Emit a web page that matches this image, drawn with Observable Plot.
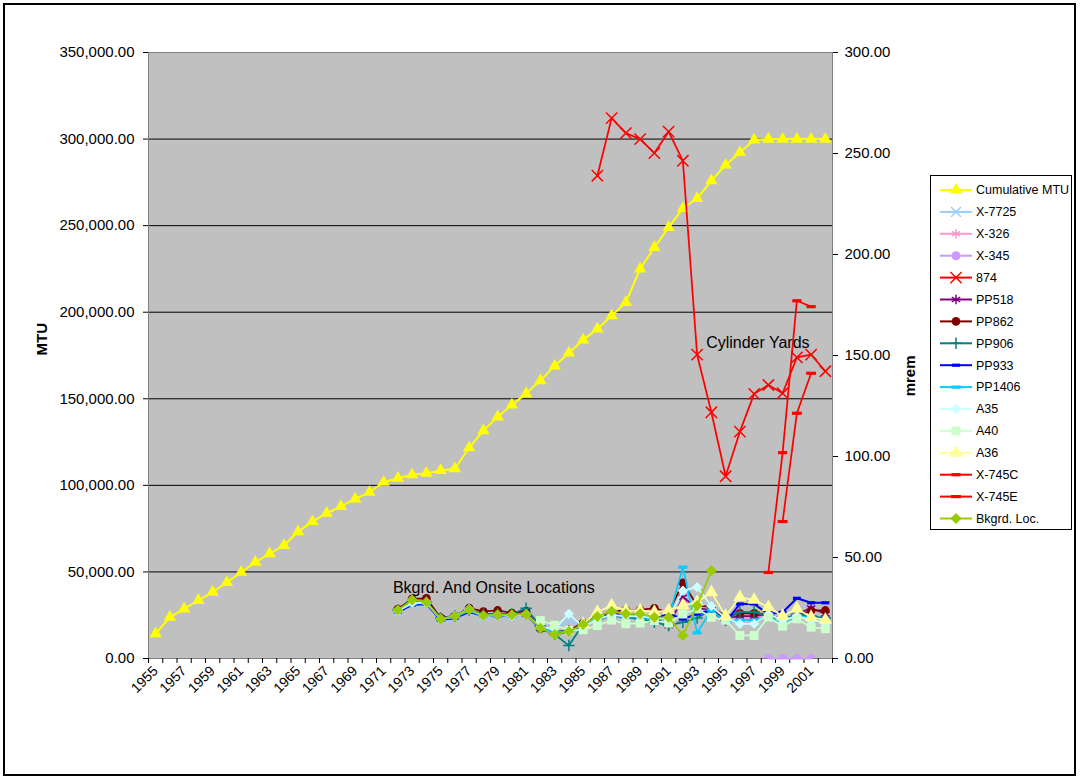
<!DOCTYPE html>
<html><head><meta charset="utf-8">
<script src="https://cdn.jsdelivr.net/npm/d3@7"></script>
<script src="https://cdn.jsdelivr.net/npm/@observablehq/plot@0.6"></script>
<style>
body{margin:0;background:#fff;font-family:"Liberation Sans",Arial,sans-serif;}
#wrap{position:relative;width:1080px;height:778px;overflow:hidden;background:#fff;}
#chart{position:absolute;left:0;top:0;}
#border{position:absolute;left:3px;top:3px;width:1073px;height:773px;border:2px solid #000;box-sizing:border-box;pointer-events:none;}
#legend{position:absolute;left:930px;top:175px;width:142px;height:355px;border:1px solid #000;background:#fff;box-sizing:border-box;overflow:hidden;}
</style></head><body>
<div id="wrap"><div id="chart"></div><div id="legend"></div><div id="border"></div></div>
<script>
// ---------- data ----------
const years = d3.range(1955, 2003);
const cumulativeMTU = [14300, 23900, 28700, 33500, 38300, 44000, 49800, 55600, 60500, 65300,
  73300, 79100, 83900, 87800, 92200, 96000, 101800, 104100, 106100, 107000,
  108600, 109600, 121700, 131600, 139500, 146500, 153000, 160500, 169000, 176500,
  184000, 190300, 198000, 205700, 225000, 237400, 249000, 260000, 265700, 276000,
  285000, 292300, 299500, 300000, 300000, 300000, 300000, 300000];
const labelYears = d3.range(1955, 2002, 2);
const mtuTicks = d3.range(0, 350001, 50000);
const mremTicks = d3.range(0, 301, 50);

// mrem series (right axis)
const clusterStart = 1972;
const x7725 = [23.5, 27, 27, 19.5, 20.5, 24, 21, 21.5, 21, 22, 15.5, 14.5, 19, 16, 20, 22, 21.5, 21, 20, 19, 31, 29, 25, 20, 18.5, 18.5, 21, 19, 21, 19.5, 18.5];
const x326 = [24, 28, 28, 20, 21, 24, 21.5, 22, 21.5, 22, 15, 13, 14, 17, 20.5, 22.5, 22, 21.5, 20.5, 20, 28, 27, 24, 20, 20, 20, 21.5, 19.5, 22, 21, 20];
const x345Start = 1998;
const x345 = [0, 0, 0, 0];
const s874Start = 1986;
const s874 = [239, 267.5, 260.1, 257.1, 250.2, 260.8, 246.4, 150.4, 121.9, 90.2, 112.3, 131, 135.4, 131.3, 149.1, 150.4, 142.2];
const pp518 = [24, 28.5, 28, 20, 21, 24, 22, 22, 21.5, 22, 15, 12.5, 14, 17, 20.5, 22, 22, 21, 20, 16.3, 30.3, 25, 24, 20, 21, 21, 22, 19, 22, 25, 22];
const pp862 = [24.5, 29.5, 29.8, 20.2, 21, 25, 23.3, 23.8, 22.5, 23.5, 14.7, 13, 14, 17.5, 21, 23, 24, 24.1, 24.9, 22.6, 37.5, 26.2, 25.5, 21, 22.4, 22.4, 22, 19, 21, 23.8, 23.8];
const pp906 = [24, 28, 28, 20, 21, 24, 22, 22, 22, 24.9, 16, 12, 6.4, 17, 19.5, 21, 20.5, 19.5, 18, 16.3, 18, 20, 24, 19, 23, 23, 21, 19, 22, 21, 20];
const pp933 = [23, 26.5, 27, 19, 20, 23, 21, 21, 21, 22, 14.5, 12.5, 13, 16.5, 20, 21, 21.5, 20.5, 19.5, 22.3, 19.5, 22, 24, 18, 27, 27, 22, 22.9, 29.8, 27.6, 27.6];
const pp1406 = [23.5, 27, 27.5, 19.5, 20.5, 23.5, 21, 21.5, 21, 22, 15, 13, 13.5, 16.5, 20, 21.5, 21, 20.5, 19.5, 20, 45.2, 12.7, 24, 18, 19, 19, 21, 18, 21, 20, 19];
const a35 = [23.5, 27.5, 27.5, 19.5, 21, 24.5, 21, 21.5, 21, 22, 15.5, 14.7, 22.1, 15.5, 19.5, 21.5, 21, 21, 20, 20, 33.6, 35.3, 26, 20, 17.2, 17.2, 22, 19, 21, 19, 18];
const a40Start = 1982;
const a40 = [18.8, 16.5, 14, 14.2, 16.3, 19, 17.2, 17.5, 18.8, 17.5, 22, 24.5, 20.4, 19, 11.4, 11.4, 20.4, 16, 19.6, 15.5, 14.7];
const a36Start = 1985;
const a36 = [17, 23, 26.2, 23.8, 23.8, 23, 23.8, 26.2, 28, 32.8, 21, 30.3, 29, 25.4, 21, 24.6, 20.4, 19.1];
const x745CStart = 1998;
const x745C = [42.6, 101.9, 177.1, 174.2];
const x745EStart = 1999;
const x745E = [67.8, 121.4, 141.2];
const bkgrd = [24, 29, 28, 19.6, 20.9, 24.2, 21.3, 21.6, 21.6, 21.8, 15, 11.9, 13.4, 16.8, 20.8, 23.4, 22.1, 22.1, 20.4, 20.4, 11.4, 26.2, 43.5];

const seriesNames = ["Cumulative MTU","X-7725","X-326","X-345","874","PP518","PP862","PP906","PP933","PP1406","A35","A40","A36","X-745C","X-745E","Bkgrd. Loc."];

// ---------- right axis (mrem) mapped onto left axis (MTU) units ----------
const K = 350000 / 300;
const seriesRows = {
  "Cumulative MTU": cumulativeMTU.map((v, i) => ({year: years[0] + i, value: v})),
};
function addRight(name, start, values) {
  seriesRows[name] = values.map((v, i) => ({year: start + i, value: v * K}));
}
addRight("X-7725", clusterStart, x7725);
addRight("X-326", clusterStart, x326);
addRight("X-345", x345Start, x345);
addRight("874", s874Start, s874);
addRight("PP518", clusterStart, pp518);
addRight("PP862", clusterStart, pp862);
addRight("PP906", clusterStart, pp906);
addRight("PP933", clusterStart, pp933);
addRight("PP1406", clusterStart, pp1406);
addRight("A35", clusterStart, a35);
addRight("A40", a40Start, a40);
addRight("A36", a36Start, a36);
addRight("X-745C", x745CStart, x745C);
addRight("X-745E", x745EStart, x745E);
addRight("Bkgrd. Loc.", clusterStart, bkgrd);

// ---------- styles ----------
const dash = {draw(ctx, size) { const w = Math.sqrt(size) * 0.56; ctx.rect(-w, -1.6, 2 * w, 3.2); }};
const symbolMap = {
  triangle: d3.symbolTriangle,
  times: d3.symbolTimes || d3.symbolCross,
  asterisk: d3.symbolAsterisk || d3.symbolStar,
  circle: d3.symbolCircle,
  plus: d3.symbolPlus || d3.symbolCross,
  diamond: d3.symbolDiamond2 || d3.symbolDiamond,
  square: d3.symbolSquare,
  dash
};
const styles = {
  "Cumulative MTU": {color: "#FFFF00", symbol: "triangle", r: 4.6, fill: true, sw: 2},
  "X-7725": {color: "#99CCFF", symbol: "times", r: 4.5, fill: false, sw: 1.75},
  "X-326": {color: "#FF99CC", symbol: "asterisk", r: 4.5, fill: false, sw: 1.75},
  "X-345": {color: "#CC99FF", symbol: "circle", r: 4.5, fill: true, sw: 1.75, clip: true},
  "874": {color: "#FF0000", symbol: "times", r: 5.2, fill: false, sw: 1.75},
  "PP518": {color: "#800080", symbol: "asterisk", r: 4.6, fill: false, sw: 1.75},
  "PP862": {color: "#800000", symbol: "circle", r: 4.3, fill: true, sw: 1.75},
  "PP906": {color: "#008080", symbol: "plus", r: 3.8, fill: false, sw: 1.75},
  "PP933": {color: "#0000FF", symbol: "dash", r: 4, fill: true, sw: 2},
  "PP1406": {color: "#00CCFF", symbol: "dash", r: 4.6, fill: true, sw: 1.75},
  "A35": {color: "#CCFFFF", symbol: "diamond", r: 4.6, fill: true, sw: 1.75},
  "A40": {color: "#CCFFCC", symbol: "square", r: 5, fill: true, sw: 1.75},
  "A36": {color: "#FFFF99", symbol: "triangle", r: 5, fill: true, sw: 1.75},
  "X-745C": {color: "#FF0000", symbol: "dash", r: 4.6, fill: true, sw: 1.75},
  "X-745E": {color: "#FF0000", symbol: "dash", r: 5, fill: true, sw: 1.75},
  "Bkgrd. Loc.": {color: "#99CC00", symbol: "diamond", r: 5, fill: true, sw: 1.75}
};

// ---------- marks ----------
const seriesMarks = seriesNames.flatMap(name => {
  const s = styles[name], data = seriesRows[name];
  const dotOpts = {x: "year", y: "value", symbol: symbolMap[s.symbol], r: s.r, clip: !!s.clip};
  if (s.fill) { dotOpts.fill = s.color; dotOpts.stroke = "none"; }
  else { dotOpts.fill = "none"; dotOpts.stroke = s.color; dotOpts.strokeWidth = 1.5; }
  return [
    Plot.line(data, {x: "year", y: "value", stroke: s.color, strokeWidth: s.sw, curve: "linear"}),
    Plot.dot(data, dotOpts)
  ];
});

const fontFamily = '"Liberation Sans", Arial, sans-serif';
const chart = Plot.plot({
  width: 1080, height: 778,
  marginLeft: 148, marginRight: 248, marginTop: 52, marginBottom: 120,
  x: {type: "linear", domain: [years[0] - 0.5, years[years.length - 1] + 0.5]},
  y: {domain: [0, 350000]},
  style: {fontFamily, fontSize: "15px", background: "transparent", color: "#000", overflow: "visible"},
  marks: [
    Plot.frame({fill: "#C0C0C0", stroke: "none"}),
    Plot.gridY(mtuTicks.filter(t => t > 0 && t < 350000), {stroke: "#000", strokeOpacity: 1, strokeWidth: 1}),
    Plot.frame({stroke: "#808080", strokeWidth: 1}),
    Plot.axisY(mtuTicks, {tickFormat: d3.format(",.2f"), tickSize: 5, tickPadding: 9, label: null}),
    Plot.axisY(mremTicks.map(v => v * K), {anchor: "right", tickFormat: d => (d / K).toFixed(2), tickSize: 5, tickPadding: 7, label: null}),
    Plot.axisX(d3.range(years[0] - 0.5, years[years.length - 1] + 1, 1), {tickSize: 5, tickFormat: () => "", label: null}),
    Plot.axisX(labelYears, {tickSize: 0, tickPadding: 10, tickRotate: -45, tickFormat: d => String(d), fontSize: 14, label: null}),
    Plot.text(["MTU"], {frameAnchor: "left", dx: -106, rotate: -90, fontWeight: "bold", fontSize: 15}),
    Plot.text(["mrem"], {frameAnchor: "right", dx: 78, rotate: -90, fontWeight: "bold", fontSize: 15}),
    ...seriesMarks,
    Plot.text(["Cylinder Yards"], {x: [1993], y: [s874[1993 - s874Start] * K], dx: 9, dy: -12, textAnchor: "start", fontSize: 16}),
    Plot.text(["Bkgrd. And Onsite Locations"], {x: [clusterStart], y: [bkgrd[0] * K], dx: -5, dy: -22, textAnchor: "start", fontSize: 16})
  ]
});
document.getElementById("chart").appendChild(chart);

// ---------- legend ----------
const leg = d3.select("#legend").append("svg").attr("width", 140).attr("height", 353)
  .style("font-family", fontFamily);
seriesNames.forEach((name, i) => {
  const s = styles[name];
  const g = leg.append("g").attr("transform", `translate(0,${14 + i * 21.9})`);
  g.append("line").attr("x1", 9).attr("x2", 41).attr("y1", 0).attr("y2", 0)
    .attr("stroke", s.color).attr("stroke-width", 2);
  const p = g.append("path").attr("transform", "translate(25,0)")
    .attr("d", d3.symbol(symbolMap[s.symbol], Math.PI * s.r * s.r)());
  if (s.fill) p.attr("fill", s.color);
  else p.attr("fill", "none").attr("stroke", s.color).attr("stroke-width", 1.5);
  g.append("text").attr("x", 45).attr("dy", "0.35em").attr("font-size", "12.5px").text(name);
});
</script>
</body></html>
